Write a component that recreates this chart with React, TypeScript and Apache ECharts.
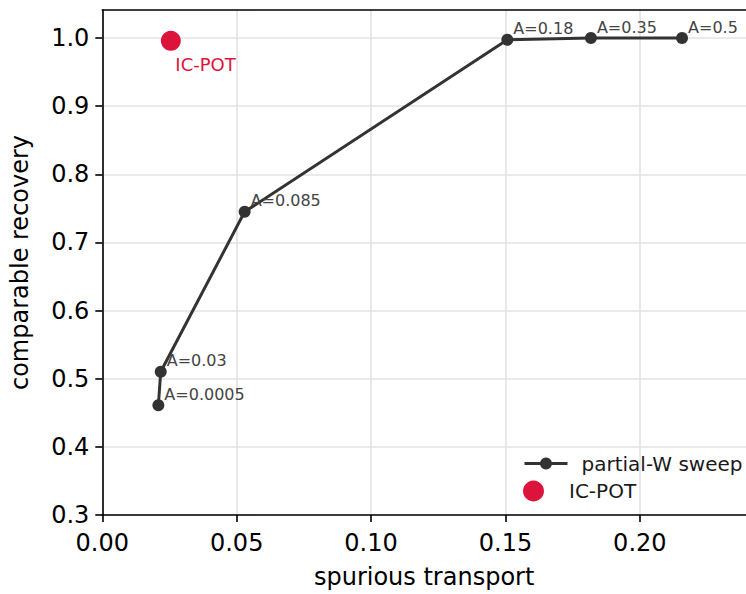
import React, { useEffect, useRef } from "react";
import * as echarts from "echarts";

const sweepX = [0.02086, 0.02174, 0.05296, 0.1507, 0.1818, 0.2157];
const sweepY = [0.4611, 0.5102, 0.745, 0.9975, 1.0, 1.0];
const sweepLabels = ["A=0.0005", "A=0.03", "A=0.085", "A=0.18", "A=0.35", "A=0.5"];
const icpotX = [0.0255];
const icpotY = [0.996];
const xTicks = [0, 0.05, 0.1, 0.15, 0.2];
const yTicks = [0.3, 0.4, 0.5, 0.6, 0.7, 0.8, 0.9, 1.0];

const FONT = "DejaVu Sans";

export default function App() {
  const ref = useRef<HTMLDivElement>(null);
  useEffect(() => {
    if (!ref.current) return;
    const chart = echarts.init(ref.current, null, { renderer: "svg" });
    const option: any = {
      animation: false,
      backgroundColor: "#ffffff",
      textStyle: { fontFamily: FONT },
      grid: { left: 102.3, right: -10.7, top: 10, bottom: 75, containLabel: false },
      legend: [
        {
          data: ["partial-W sweep"],
          left: 523,
          top: 453.5,
          padding: 0,
          itemWidth: 43,
          itemHeight: 15,
          lineStyle: { width: 3, color: "#333333" },
          textStyle: { fontFamily: FONT, fontSize: 20, color: "#1a1a1a", padding: [0, 0, 0, 9] },
        },
        {
          data: ["IC-POT"],
          left: 523,
          top: 480.5,
          padding: 0,
          itemWidth: 43,
          itemHeight: 21,
          textStyle: { fontFamily: FONT, fontSize: 20, color: "#1a1a1a", padding: [0, 0, 0, 9] },
        },
      ],
      xAxis: [
        {
          type: "value",
          min: 0,
          max: 0.2395,
          interval: 0.05,
          position: "bottom",
          name: "spurious transport",
          nameLocation: "middle",
          nameGap: 50,
          nameTextStyle: { fontFamily: FONT, fontSize: 24, color: "#000" },
          axisLine: { show: true, onZero: false, lineStyle: { color: "#000", width: 1.6 } },
          axisTick: { show: true, length: 7, customValues: xTicks, lineStyle: { color: "#000", width: 1.6 } },
          axisLabel: {
            customValues: xTicks,
            fontFamily: FONT,
            fontSize: 24,
            color: "#000",
            margin: 16,
            formatter: (v: number) => v.toFixed(2),
          },
          splitLine: { show: true, lineStyle: { color: "#e3e3e3", width: 1.6 } },
        },
        {
          type: "value",
          min: 0,
          max: 0.2395,
          position: "top",
          axisLine: { show: true, onZero: false, lineStyle: { color: "#000", width: 1.6 } },
          axisTick: { show: false },
          axisLabel: { show: false },
          splitLine: { show: false },
        },
      ],
      yAxis: {
        type: "value",
        min: 0.3,
        max: 1.0412,
        interval: 0.1,
        name: "comparable recovery",
        nameLocation: "middle",
        nameGap: 70,
        nameTextStyle: { fontFamily: FONT, fontSize: 24, color: "#000" },
        axisLine: { show: true, onZero: false, lineStyle: { color: "#000", width: 1.6 } },
        axisTick: { show: true, length: 7, customValues: yTicks, lineStyle: { color: "#000", width: 1.6 } },
        axisLabel: {
          customValues: yTicks,
          fontFamily: FONT,
          fontSize: 24,
          color: "#000",
          margin: 13,
          formatter: (v: number) => v.toFixed(1),
        },
        splitLine: { show: true, lineStyle: { color: "#e3e3e3", width: 1.6 } },
      },
      series: [
        {
          name: "partial-W sweep",
          type: "line",
          data: sweepX.map((x, i) => ({ value: [x, sweepY[i]], name: sweepLabels[i] })),
          symbol: "circle",
          symbolSize: 12,
          lineStyle: { color: "#333333", width: 3 },
          itemStyle: { color: "#333333" },
          label: {
            show: true,
            formatter: "{b}",
            position: [12, -5],
            align: "left",
            verticalAlign: "middle",
            fontFamily: FONT,
            fontSize: 16,
            color: "#444444",
          },
          z: 3,
        },
        {
          name: "IC-POT",
          type: "scatter",
          data: icpotX.map((x, i) => ({ value: [x, icpotY[i]], name: "IC-POT" })),
          symbol: "circle",
          symbolSize: 20,
          itemStyle: { color: "#dc143c", opacity: 1 },
          label: {
            show: true,
            formatter: "{b}",
            position: [14.5, 34],
            align: "left",
            verticalAlign: "middle",
            fontFamily: FONT,
            fontSize: 18,
            color: "#dc143c",
          },
          z: 4,
        },
      ],
    };
    chart.setOption(option);
    return () => chart.dispose();
  }, []);
  return (
    <div
      ref={ref}
      style={{ position: "fixed", left: 0, top: 0, width: 746, height: 594, background: "#fff" }}
    />
  );
}
